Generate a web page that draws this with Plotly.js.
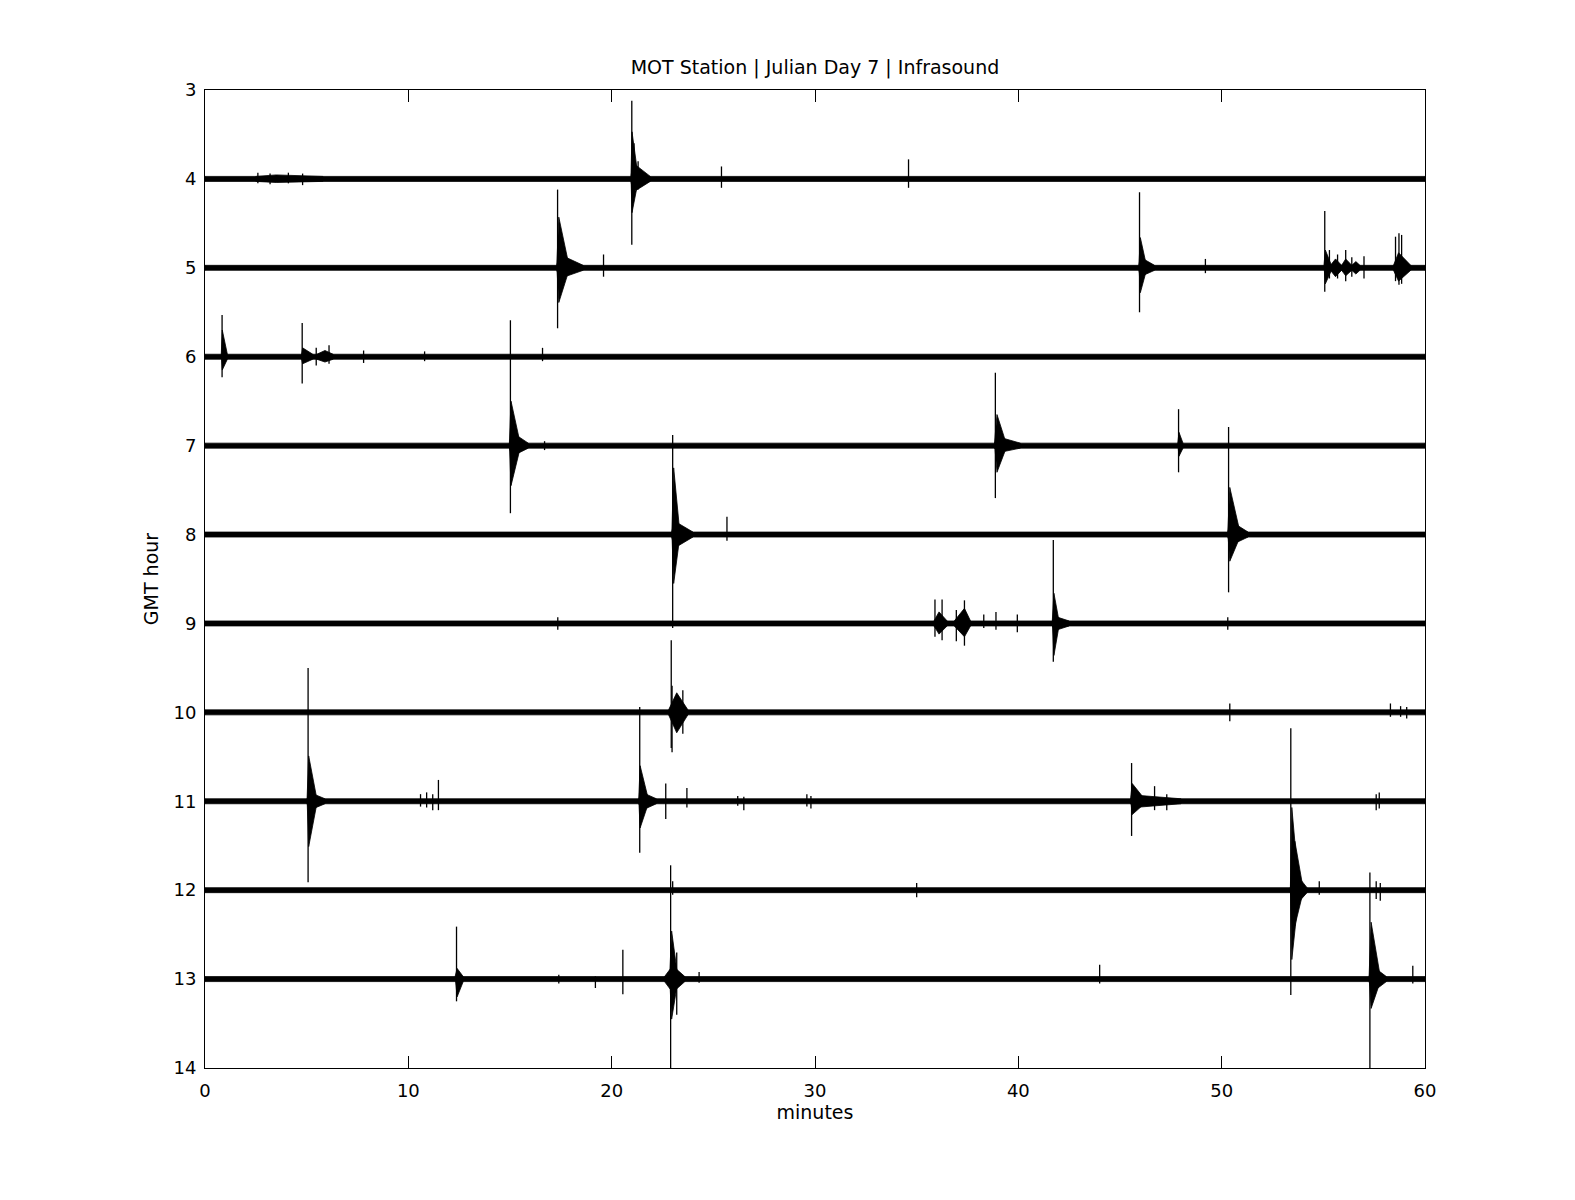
<!DOCTYPE html>
<html>
<head>
<meta charset="utf-8">
<script src="https://cdn.plot.ly/plotly-3.0.1.min.js"></script>
<style>html,body{margin:0;padding:0;background:#fff;}#chart{width:1575px;height:1200px;}</style>
</head>
<body>
<div id="chart"></div>
<script>
// ---- data ----
// GMT hour of each trace (trace baseline on the y axis)
const hours = [4, 5, 6, 7, 8, 9, 10, 11, 12, 13];
const xTicks = [0, 10, 20, 30, 40, 50, 60];
const yTicks = [3, 4, 5, 6, 7, 8, 9, 10, 11, 12, 13, 14];
// background noise half-amplitude (hours of y axis)
const noiseLevel = 0.028;

// spikes: [minute, amplitude up, amplitude down]
const spikes4  = [[2.6, 0.07, 0.05], [3.2, 0.06, 0.06], [4.1, 0.07, 0.05], [4.8, 0.06, 0.07],
                  [20.99, 0.88, 0.74], [21.1, 0.4, 0.2], [21.3, 0.2, 0.12], [25.4, 0.14, 0.1], [34.6, 0.22, 0.1]];
const spikes5  = [[17.34, 0.88, 0.68], [17.55, 0.3, 0.2], [19.6, 0.15, 0.1], [45.96, 0.85, 0.5], [49.2, 0.1, 0.06],
                  [55.07, 0.64, 0.27], [55.3, 0.2, 0.12], [55.7, 0.15, 0.12], [56.1, 0.2, 0.15], [56.4, 0.12, 0.1],
                  [57.0, 0.13, 0.12], [58.55, 0.35, 0.15], [58.72, 0.39, 0.19], [58.85, 0.37, 0.18]];
const spikes6  = [[0.84, 0.47, 0.23], [4.78, 0.38, 0.3], [5.47, 0.1, 0.1], [6.1, 0.13, 0.08], [7.8, 0.07, 0.07],
                  [10.8, 0.06, 0.05], [16.6, 0.1, 0.05]];
const spikes7  = [[15.02, 1.41, 0.76], [16.7, 0.05, 0.05], [38.87, 0.82, 0.59], [47.88, 0.41, 0.3]];
const spikes8  = [[23.0, 1.12, 1.05], [25.67, 0.2, 0.07], [50.34, 1.21, 0.65]];
const spikes9  = [[17.35, 0.07, 0.07], [35.9, 0.27, 0.15], [36.25, 0.27, 0.19], [36.95, 0.15, 0.2], [37.35, 0.26, 0.25],
                  [38.3, 0.1, 0.05], [38.9, 0.13, 0.07], [39.95, 0.1, 0.1], [41.72, 0.94, 0.43], [50.3, 0.07, 0.07]];
const spikes10 = [[22.93, 0.81, 0.4], [22.97, 0.3, 0.45], [23.5, 0.25, 0.24], [50.4, 0.1, 0.1], [58.3, 0.1, 0.05],
                  [58.8, 0.07, 0.05], [59.1, 0.06, 0.07]];
const spikes11 = [[5.07, 1.5, 0.91], [10.6, 0.08, 0.06], [10.9, 0.1, 0.07], [11.2, 0.08, 0.1], [11.48, 0.24, 0.1],
                  [21.38, 1.06, 0.58], [22.66, 0.2, 0.2], [23.7, 0.15, 0.07], [26.2, 0.06, 0.05], [26.5, 0.05, 0.1],
                  [29.6, 0.08, 0.06], [29.8, 0.06, 0.08], [45.57, 0.43, 0.39], [46.7, 0.17, 0.1], [47.3, 0.08, 0.1],
                  [57.6, 0.08, 0.1], [57.75, 0.1, 0.08]];
const spikes12 = [[23.0, 0.1, 0.05], [35.0, 0.08, 0.08], [53.4, 1.82, 1.18], [54.8, 0.1, 0.05],
                  [57.6, 0.1, 0.1], [57.8, 0.08, 0.12]];
const spikes13 = [[12.37, 0.59, 0.25], [17.4, 0.05, 0.05], [19.2, 0.03, 0.1], [20.55, 0.33, 0.17], [22.9, 1.28, 1.1],
                  [23.2, 0.3, 0.4], [24.3, 0.08, 0.04], [44.0, 0.16, 0.05], [57.29, 1.2, 1.1], [59.4, 0.15, 0.05]];

// bursts (signal envelope): [start minute, peak minute, end minute, amplitude up, amplitude down]
const bursts4  = [[2.5, 3.5, 5.8, 0.045, 0.04], [20.95, 21.0, 21.3, 0.53, 0.38], [20.95, 21.05, 21.9, 0.18, 0.15]];
const bursts5  = [[17.3, 17.4, 17.9, 0.57, 0.39], [17.3, 17.45, 18.6, 0.15, 0.12], [45.93, 46.0, 46.3, 0.34, 0.28],
                  [45.93, 46.0, 46.7, 0.12, 0.1], [55.03, 55.1, 55.4, 0.2, 0.18], [55.35, 55.6, 55.9, 0.1, 0.1],
                  [55.9, 56.1, 56.4, 0.1, 0.09], [56.4, 56.6, 56.8, 0.07, 0.07], [58.45, 58.7, 59.3, 0.17, 0.15]];
const bursts6  = [[0.8, 0.85, 1.1, 0.3, 0.15], [4.75, 4.8, 5.3, 0.1, 0.08], [5.5, 5.9, 6.3, 0.07, 0.06]];
const bursts7  = [[14.97, 15.05, 15.5, 0.5, 0.45], [14.97, 15.1, 15.9, 0.15, 0.12], [38.83, 38.95, 39.4, 0.35, 0.3],
                  [38.83, 39.0, 40.1, 0.1, 0.08], [47.84, 47.9, 48.1, 0.15, 0.12]];
const bursts8  = [[22.96, 23.05, 23.35, 0.75, 0.55], [22.95, 23.1, 24.0, 0.15, 0.15], [50.3, 50.4, 50.9, 0.53, 0.3],
                  [50.3, 50.45, 51.3, 0.15, 0.12]];
const bursts9  = [[35.85, 36.1, 36.5, 0.13, 0.12], [36.85, 37.35, 37.65, 0.17, 0.15], [41.67, 41.75, 42.0, 0.34, 0.36],
                  [41.67, 41.8, 42.5, 0.08, 0.08]];
const bursts10 = [[22.8, 23.2, 23.75, 0.22, 0.23]];
const bursts11 = [[5.02, 5.1, 5.5, 0.51, 0.51], [5.02, 5.15, 5.9, 0.1, 0.1],
                  [21.33, 21.4, 21.8, 0.4, 0.3], [21.33, 21.5, 22.2, 0.1, 0.1],
                  [45.52, 45.6, 46.2, 0.2, 0.15], [45.52, 45.7, 48.0, 0.07, 0.07]];
const bursts12 = [[53.38, 53.45, 53.8, 0.93, 0.78], [53.38, 53.6, 54.0, 0.55, 0.4], [53.38, 53.6, 54.2, 0.2, 0.18]];
const bursts13 = [[12.3, 12.4, 12.7, 0.12, 0.2], [22.85, 22.95, 23.25, 0.54, 0.45], [22.6, 23.0, 23.6, 0.15, 0.15],
                  [57.25, 57.35, 57.8, 0.64, 0.33], [57.25, 57.4, 58.1, 0.15, 0.15]];

const spikeSets = [spikes4, spikes5, spikes6, spikes7, spikes8, spikes9, spikes10, spikes11, spikes12, spikes13];
const burstSets = [bursts4, bursts5, bursts6, bursts7, bursts8, bursts9, bursts10, bursts11, bursts12, bursts13];

// ---- build traces ----
const polyX = [], polyY = [];
const spikeX = [], spikeY = [];
hours.forEach((h, i) => {
  const n = noiseLevel;
  const x0 = xTicks[0], x1 = xTicks[xTicks.length - 1];
  polyX.push(x0, x1, x1, x0, x0, null);
  polyY.push(h - n, h - n, h + n, h + n, h - n, null);
  burstSets[i].forEach(b => {
    const [s, p, e, u, d] = b;
    polyX.push(s, p, e, e, p, s, s, null);
    polyY.push(h - n, h - u, h - n, h + n, h + d, h + n, h - n, null);
  });
  spikeSets[i].forEach(sp => {
    const [m, u, d] = sp;
    spikeX.push(m, m, null);
    spikeY.push(h - u, h + d, null);
  });
});

const traces = [
  {x: polyX, y: polyY, type: 'scatter', mode: 'lines', fill: 'toself',
   fillcolor: '#000', line: {color: '#000', width: 0.8}, hoverinfo: 'skip'},
  {x: spikeX, y: spikeY, type: 'scatter', mode: 'lines',
   line: {color: '#000', width: 1.3}, hoverinfo: 'skip'}
];

const fontFam = 'DejaVu Sans, Arial, sans-serif';
const layout = {
  width: 1575, height: 1200,
  margin: {l: 205, r: 150, t: 90, b: 132, pad: 0},
  paper_bgcolor: '#fff', plot_bgcolor: '#fff',
  showlegend: false,
  font: {family: fontFam, size: 18, color: '#000'},
  title: {text: 'MOT Station | Julian Day 7 | Infrasound', xref: 'paper', x: 0.5, xanchor: 'center',
          yref: 'container', y: 1 - 67 / 1200, yanchor: 'middle', font: {family: fontFam, size: 19, color: '#000'}},
  xaxis: {range: [xTicks[0], xTicks[xTicks.length - 1]], tickmode: 'array', tickvals: xTicks,
          ticks: 'inside', ticklen: 12, tickwidth: 1, tickcolor: '#000',
          showline: true, mirror: 'ticks', linecolor: '#000', linewidth: 1,
          showgrid: false, zeroline: false, ticklabelstandoff: 6,
          tickfont: {family: fontFam, size: 18, color: '#000'},
          title: {text: 'minutes', standoff: 6, font: {family: fontFam, size: 19, color: '#000'}}},
  yaxis: {range: [yTicks[yTicks.length - 1], yTicks[0]], tickmode: 'array', tickvals: yTicks,
          ticks: 'inside', ticklen: 12, tickwidth: 1, tickcolor: '#000',
          showline: true, mirror: 'ticks', linecolor: '#000', linewidth: 1,
          showgrid: false, zeroline: false, ticklabelstandoff: 4,
          tickfont: {family: fontFam, size: 18, color: '#000'},
          title: {text: 'GMT hour', standoff: 9, font: {family: fontFam, size: 19, color: '#000'}}}
};

Plotly.newPlot('chart', traces, layout, {displayModeBar: false, staticPlot: true});
</script>
</body>
</html>
